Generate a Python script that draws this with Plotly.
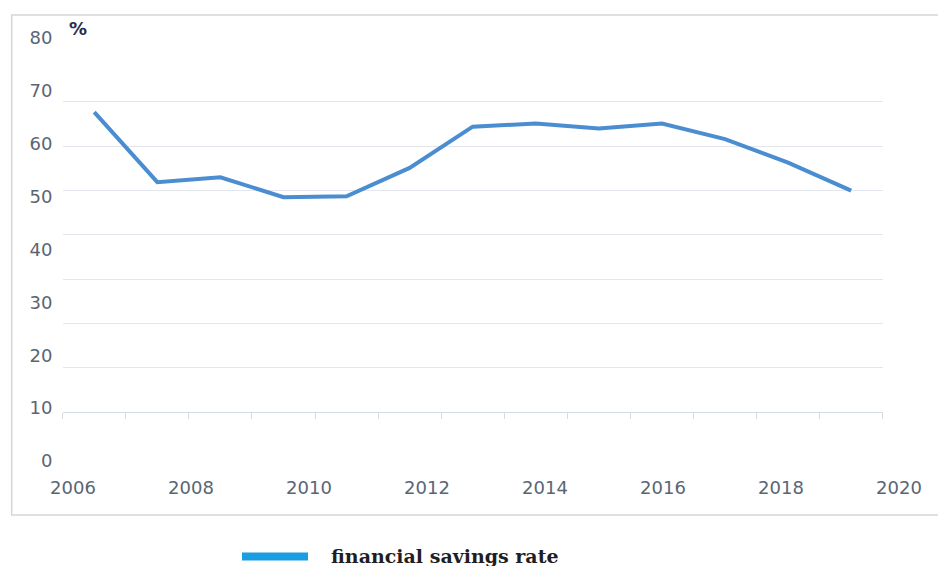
import plotly.graph_objects as go

# Financial savings rate, annual values (%)
years = [2007, 2008, 2009, 2010, 2011, 2012, 2013, 2014, 2015, 2016, 2017, 2018, 2019]
savings_rate = [67.7, 51.9, 53.0, 48.5, 48.7, 55.1, 64.4, 65.1, 64.0, 65.1, 61.6, 56.3, 50.0]

# Labels shown along the axes
year_labels = [2006, 2008, 2010, 2012, 2014, 2016, 2018, 2020]
pct_labels = [0, 10, 20, 30, 40, 50, 60, 70, 80]

series_name = "financial savings rate"

W, H = 938, 566
LINE_BLUE = "#4a8dd0"
KEY_BLUE = "#1b9de2"
GRID = "#e3e7ed"
AXIS = "#d5dbe3"
LABEL = "#5a6574"


def px_x(p):
    return p / W


def px_y(p):
    return 1 - p / H


fig = go.Figure()

fig.add_trace(go.Scatter(
    x=years, y=savings_rate, mode="lines",
    line=dict(color=LINE_BLUE, width=4),
    name=series_name, showlegend=False, hoverinfo="x+y",
    xaxis="x", yaxis="y",
))

# carrier trace for the labelling axes
fig.add_trace(go.Scatter(x=[], y=[], xaxis="x2", yaxis="y2",
                         showlegend=False, hoverinfo="skip"))

boundaries = [y - 0.5 for y in years] + [years[-1] + 0.5]

# label scales
x2_lo = 2006 - 73 / 59.0
x2_hi = 2006 + (W - 73) / 59.0
y2_per = (461 - 38) / 80.0
y2_lo = -(H - 461) / y2_per
y2_hi = 80 + 38 / y2_per

fig.update_layout(
    width=W, height=H,
    margin=dict(l=0, r=0, t=0, b=0),
    paper_bgcolor="white", plot_bgcolor="rgba(0,0,0,0)",
    font=dict(family="DejaVu Sans", color=LABEL),
    xaxis=dict(
        domain=[px_x(62.7), px_x(882.7)],
        range=[years[0] - 0.5, years[-1] + 0.5],
        showgrid=False, zeroline=False,
        showline=True, linecolor=AXIS, linewidth=1.3,
        ticks="outside", tickvals=boundaries, ticklen=6,
        tickcolor=AXIS, tickwidth=1.3,
        showticklabels=False, anchor="y", fixedrange=True,
    ),
    yaxis=dict(
        domain=[px_y(412.3), px_y(57.5)],
        range=[0, 80], dtick=10, tick0=0,
        showgrid=True, gridcolor=GRID, gridwidth=1.3,
        zeroline=False, showline=False, showticklabels=False,
        anchor="x", fixedrange=True,
    ),
    xaxis2=dict(
        domain=[0, 1], range=[x2_lo, x2_hi],
        anchor="free", position=px_y(474.5),
        tickvals=year_labels, ticktext=[str(v) for v in year_labels],
        ticks="", showgrid=False, zeroline=False, showline=False,
        tickfont=dict(size=18, color=LABEL, family="DejaVu Sans"),
        fixedrange=True,
    ),
    yaxis2=dict(
        domain=[0, 1], range=[y2_lo, y2_hi],
        anchor="free", position=px_x(52.5), side="left",
        tickvals=pct_labels, ticktext=[str(v) for v in pct_labels],
        ticks="", showgrid=False, zeroline=False, showline=False,
        tickfont=dict(size=18, color=LABEL, family="DejaVu Sans"),
        fixedrange=True,
    ),
    shapes=[
        # chart frame
        dict(type="rect", xref="paper", yref="paper",
             x0=px_x(11.7), x1=1.02, y0=px_y(515), y1=px_y(15),
             line=dict(color="#d6d6d6", width=1.5), layer="below"),
        # legend key
        dict(type="line", xref="paper", yref="paper",
             x0=px_x(242), x1=px_x(308), y0=px_y(556.5), y1=px_y(556.5),
             line=dict(color=KEY_BLUE, width=8)),
    ],
    annotations=[
        dict(text="<b>%</b>", xref="paper", yref="paper",
             x=px_x(78), y=px_y(28), xanchor="center", yanchor="middle",
             showarrow=False,
             font=dict(size=18, color="#2b2f4a", family="DejaVu Sans")),
        dict(text="<b>" + series_name + "</b>", xref="paper", yref="paper",
             x=px_x(329), y=px_y(556), xanchor="left", yanchor="middle",
             showarrow=False,
             font=dict(size=19, color="#1e1e24", family="DejaVu Serif")),
    ],
)

fig.write_html("out.html")
